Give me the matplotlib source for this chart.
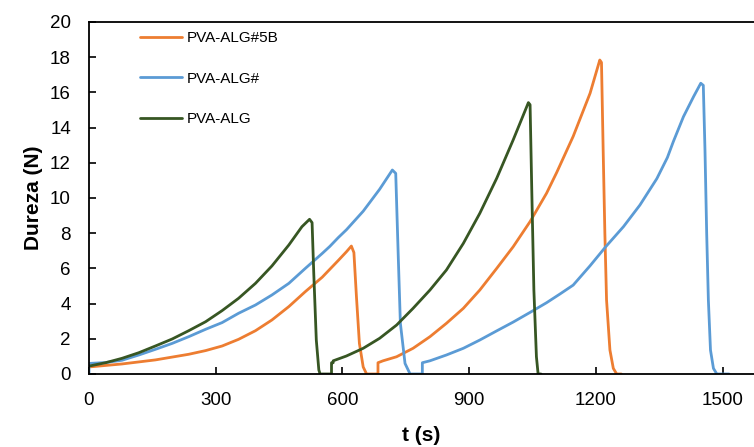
import matplotlib
matplotlib.use("Agg")
import matplotlib.pyplot as plt

plt.rcParams['font.family'] = ['Liberation Sans', 'DejaVu Sans']

# PVA-ALG#5B (orange)
t_5b = [0, 78, 157, 236, 276, 315, 354, 394, 433, 473, 512, 552, 570, 590, 609.5, 621, 627, 633,
        640, 649, 657, 684, 684, 696, 728, 767, 807, 846, 886, 925, 965, 1004, 1044, 1083, 1107,
        1146, 1186, 1209, 1213, 1217, 1221, 1225, 1233, 1241, 1249, 1260]
v_5b = [0.4, 0.57, 0.8, 1.12, 1.33, 1.59, 1.97, 2.46, 3.07, 3.83, 4.68, 5.5, 5.95, 6.45, 6.95,
        7.27, 6.9, 4.4, 1.74, 0.4, 0, 0, 0.64, 0.75, 0.98, 1.46, 2.12, 2.88, 3.73, 4.77, 6.0, 7.23,
        8.66, 10.27, 11.45, 13.5, 15.95, 17.84, 17.7, 12.7, 8.0, 4.2, 1.36, 0.32, 0, 0]

# PVA-ALG# (blue)
t_h = [0, 0, 39, 78, 118, 157, 197, 236, 276, 315, 354, 394, 433, 473, 512, 552, 570, 590, 609.5,
       649, 688, 718, 726, 732, 737, 748, 760, 789, 789, 807, 846, 886, 925, 965, 1004, 1044,
       1083, 1115, 1146, 1186, 1223, 1265, 1304, 1344, 1369, 1383, 1407, 1431, 1448, 1454, 1458,
       1462, 1466, 1471, 1478, 1486, 1515]
v_h = [0, 0.6, 0.65, 0.78, 1.08, 1.4, 1.74, 2.12, 2.54, 2.92, 3.45, 3.92, 4.49, 5.15, 6.0, 6.85,
       7.25, 7.75, 8.2, 9.25, 10.5, 11.59, 11.4, 6.67, 2.88, 0.6, 0, 0, 0.64, 0.75, 1.08, 1.46,
       1.93, 2.45, 2.95, 3.5, 4.05, 4.55, 5.05, 6.15, 7.23, 8.37, 9.6, 11.1, 12.3, 13.2, 14.62,
       15.76, 16.52, 16.4, 12.7, 8.0, 4.2, 1.36, 0.32, 0, 0]

# PVA-ALG (green)
t_g = [0, 39, 78, 118, 157, 197, 236, 276, 315, 354, 394, 433, 473, 504, 522, 528, 532, 538, 544,
       547, 574, 574, 578, 578, 609, 649, 688, 728, 767, 807, 846, 886, 925, 965, 1004, 1040,
       1044, 1048, 1053, 1059, 1063, 1070]
v_g = [0.45, 0.64, 0.89, 1.21, 1.59, 1.99, 2.46, 2.97, 3.6, 4.3, 5.15, 6.14, 7.33, 8.37, 8.79,
       8.6, 5.72, 1.93, 0.23, 0, 0, 0.64, 0.64, 0.75, 1.02, 1.46, 2.03, 2.78, 3.73, 4.77, 5.91,
       7.42, 9.13, 11.12, 13.3, 15.42, 15.3, 10.45, 4.77, 0.98, 0, 0]

labels = ["PVA-ALG#5B", "PVA-ALG#", "PVA-ALG"]
colors = ["#ED7D31", "#5B9BD5", "#375623"]
x_ticks = [0, 300, 600, 900, 1200, 1500]
y_ticks = list(range(0, 21, 2))

fig = plt.figure(figsize=(7.54, 4.47), dpi=100)
ax = fig.add_axes([89 / 754, 1 - 374 / 447, 1 - 89 / 754, (374 - 22) / 447])

for t, v, lab, c in zip([t_5b, t_h, t_g], [v_5b, v_h, v_g], labels, colors):
    ax.plot(t, v, color=c, lw=2.0, label=lab, solid_joinstyle='round', solid_capstyle='round')

ax.set_xlim(0, 1574)
ax.set_ylim(0, 20)
ax.set_xticks(x_ticks)
ax.set_yticks(y_ticks)
ax.tick_params(direction='in', length=5, width=1.2, labelsize=13.5, colors='black')
ax.tick_params(axis='x', pad=13)
ax.tick_params(axis='y', pad=13)
for s in ['left', 'bottom', 'top']:
    ax.spines[s].set_linewidth(1.3)
    ax.spines[s].set_color('black')
ax.spines['right'].set_visible(False)

ax.set_xlabel("t (s)", fontsize=15, fontweight='bold', labelpad=12)
ax.set_ylabel("Dureza (N)", fontsize=15, fontweight='bold', labelpad=5)

leg = ax.legend(loc='upper left', bbox_to_anchor=(0.06, 1.005), frameon=False, fontsize=11,
                handlelength=2.8, handletextpad=0.3, labelspacing=1.75, borderaxespad=0.3)

fig.savefig("out.png", dpi=100)
